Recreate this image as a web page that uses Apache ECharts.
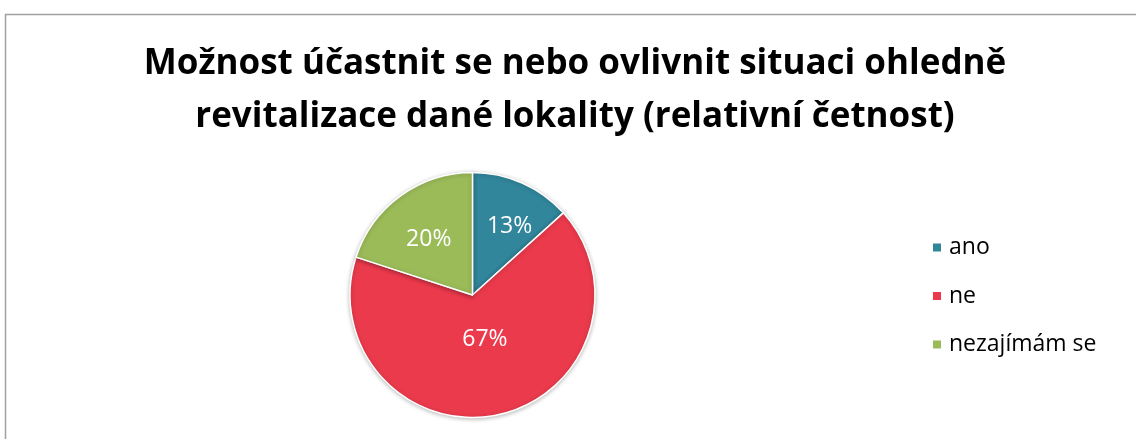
<!DOCTYPE html>
<html>
<head>
<meta charset="utf-8">
<script src="https://cdn.jsdelivr.net/npm/echarts@6/dist/echarts.min.js"></script>
<style>
html,body{margin:0;padding:0;background:#fff;}
#c{width:1136px;height:439px;}
</style>
</head>
<body>
<div id="c"></div>
<script>
const titleLines = ['Možnost účastnit se nebo ovlivnit situaci ohledně', 'revitalizace dané lokality (relativní četnost)'];
const categories = ['ano', 'ne', 'nezajímám se'];
const values = [13.3, 66.7, 20];
const colors = ['#31869B', '#EA3A4C', '#9BBB59'];
const labelShift = [[11, -10], [-1, -18], [-6, -4]];

const chart = echarts.init(document.getElementById('c'), null, {renderer: 'canvas'});
chart.setOption({
  animation: false,
  backgroundColor: '#fff',
  graphic: [{
    type: 'rect',
    shape: {x: 5.5, y: 14.5, width: 1300, height: 600},
    style: {fill: 'none', stroke: '#a0a0a0', lineWidth: 1.5},
    silent: true, z: -1
  }],
  title: {
    text: titleLines.join('\n'),
    left: 575,
    top: 38,
    padding: 0,
    textAlign: 'center',
    textStyle: {
      fontFamily: 'Open Sans',
      fontWeight: 'bold',
      fontSize: 35,
      lineHeight: 53,
      color: '#000'
    }
  },
  legend: {
    orient: 'vertical',
    left: 931,
    top: 236,
    padding: 0,
    itemWidth: 10,
    itemHeight: 10,
    itemGap: 25.5,
    icon: 'rect',
    data: categories,
    textStyle: {fontFamily: 'Open Sans', fontSize: 23, color: '#000', padding: [0, 0, 0, 2]}
  },
  series: [{
    type: 'pie',
    center: [472.5, 295],
    radius: 122.5,
    startAngle: 90,
    clockwise: true,
    data: categories.map((n, i) => ({name: n, value: values[i], itemStyle: {color: colors[i]}})),
    itemStyle: {borderColor: '#fff', borderWidth: 1.5, shadowBlur: 4, shadowColor: 'rgba(0,0,0,0.25)', shadowOffsetY: 1},
    label: {
      show: true,
      position: 'inside',
      formatter: p => Math.round(p.percent) + '%',
      fontFamily: 'Open Sans',
      fontSize: 23,
      color: '#fff'
    },
    labelLayout: p => ({dx: labelShift[p.dataIndex][0], dy: labelShift[p.dataIndex][1]}),
    emphasis: {disabled: true}
  }]
});
</script>
</body>
</html>
